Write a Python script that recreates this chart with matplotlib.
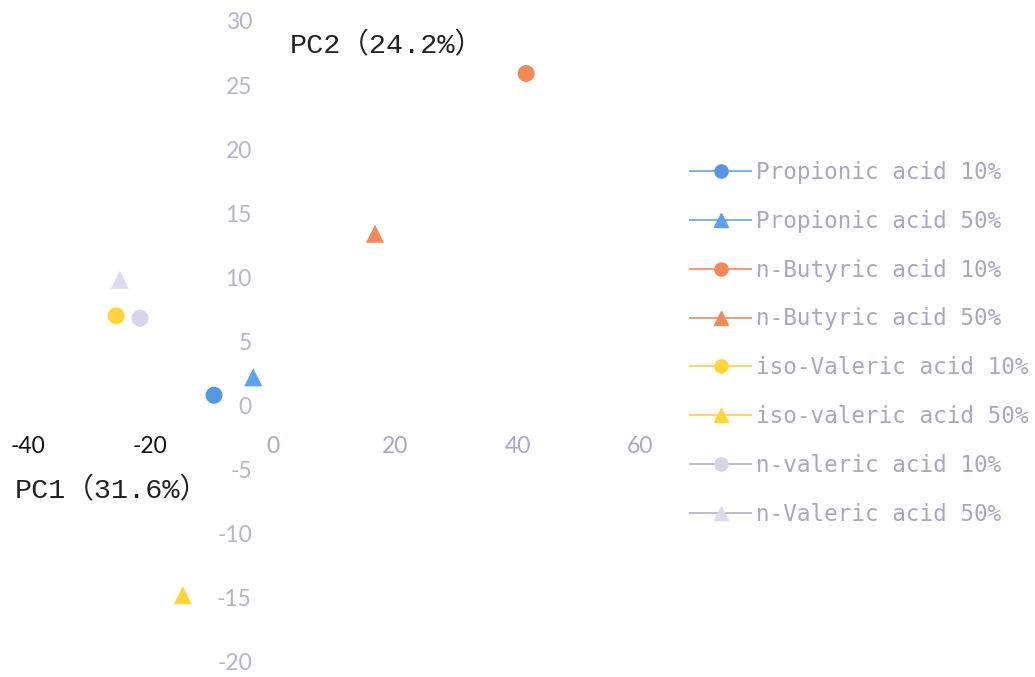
import matplotlib
matplotlib.use("Agg")
import matplotlib.pyplot as plt
from matplotlib.lines import Line2D

# PCA scores for each acid / concentration
labels = [
    "Propionic acid 10%", "Propionic acid 50%",
    "n-Butyric acid 10%", "n-Butyric acid 50%",
    "iso-Valeric acid 10%", "iso-valeric acid 50%",
    "n-valeric acid 10%", "n-Valeric acid 50%",
]
pc1 = [-9.6, -3.2, 41.4, 16.7, -25.6, -14.7, -21.7, -25.0]
pc2 = [0.8, 2.2, 25.9, 13.4, 7.0, -14.8, 6.8, 9.8]
markers = ["o", "^", "o", "^", "o", "^", "o", "^"]
colors = ["#5596E6", "#5F9FEC", "#F2895A", "#F08A5C",
          "#FFD43C", "#FFD43C", "#D6D6EA", "#DCDCEE"]
legend_line_colors = ["#7AB0EC", "#7AB0EC", "#F29A76", "#F29A76",
                      "#FFD85A", "#FFD85A", "#BCBCCE", "#BCBCCE"]

x_ticks = [-40, -20, 0, 20, 40, 60]
y_ticks = [-20, -15, -10, -5, 0, 5, 10, 15, 20, 25, 30]
xlabel_text = "PC1（31.6%）"
ylabel_text = "PC2（24.2%）"

W, H = 1035, 677
fig = plt.figure(figsize=(W / 100, H / 100), dpi=100)

# axes placed so that data units map onto the canvas layout
x0_px, x_scale = 272.8, 6.12
y0_px, y_scale = 405.5, 12.82
xlim = (-44, 64)
ylim = (-20.5, 30.5)
left_px = x0_px + x_scale * xlim[0]
right_px = x0_px + x_scale * xlim[1]
top_px = y0_px - y_scale * ylim[1]
bottom_px = y0_px - y_scale * ylim[0]
ax = fig.add_axes([left_px / W, 1 - bottom_px / H,
                   (right_px - left_px) / W, (bottom_px - top_px) / H])
ax.set_xlim(*xlim)
ax.set_ylim(*ylim)

for x, y, m, c in zip(pc1, pc2, markers, colors):
    ax.scatter([x], [y], marker=m, s=150 if m == "o" else 170,
               color=c, edgecolors="none", zorder=3, clip_on=False)

# axes cross at the origin; lines themselves hidden
for side in ["top", "right"]:
    ax.spines[side].set_visible(False)
ax.spines["left"].set_position(("data", 0))
ax.spines["bottom"].set_position(("data", 0))
ax.spines["left"].set_visible(False)
ax.spines["bottom"].set_visible(False)

tick_font = ["Lato", "DejaVu Sans"]
ax.set_xticks(x_ticks)
ax.set_yticks(y_ticks)
ax.set_xticklabels([str(v) for v in x_ticks], family=tick_font, fontsize=16.5)
ax.set_yticklabels([str(v) for v in y_ticks], family=tick_font, fontsize=16.5)
ax.tick_params(axis="x", length=0, pad=22)
ax.tick_params(axis="y", length=0, pad=15)
for v, t in zip(x_ticks, ax.get_xticklabels()):
    t.set_color("#111111" if v < 0 else "#A8A8C4")
for t in ax.get_yticklabels():
    t.set_color("#B4B4CE")

label_font = ["Liberation Mono", "Noto Sans CJK JP"]
fig.text(15 / W, 1 - 491 / H, xlabel_text, family=label_font, fontsize=20.5,
         color="#222222", ha="left", va="center")
fig.text(290 / W, 1 - 46 / H, ylabel_text, family=label_font, fontsize=20.5,
         color="#222222", ha="left", va="center")

handles = [Line2D([0], [0], color=lc, lw=1.4, marker=m, markersize=9.5,
                  markerfacecolor=c, markeredgecolor=c)
           for lc, m, c in zip(legend_line_colors, markers, colors)]
leg = fig.legend(handles, labels, loc="upper left",
                 bbox_to_anchor=(690 / W, 1 - 161 / H),
                 frameon=False, handlelength=2.7, handletextpad=0.2,
                 labelspacing=1.14, borderaxespad=0, borderpad=0,
                 prop={"family": "DejaVu Sans Mono", "size": 16.3})
for t in leg.get_texts():
    t.set_color("#A8A8BC")

fig.savefig("out.png", dpi=100)
